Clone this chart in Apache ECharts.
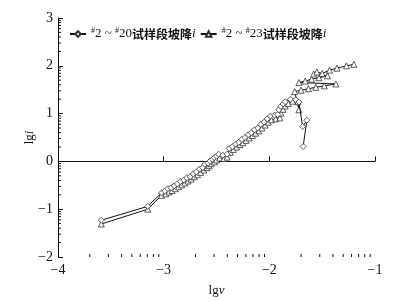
<!DOCTYPE html>
<html><head><meta charset="utf-8">
<script src="https://cdn.jsdelivr.net/npm/echarts@6/dist/echarts.min.js"></script>
<style>html,body{margin:0;padding:0;background:#fff}#c{width:410px;height:302px}</style>
</head><body><div id="c"></div>
<script>
var seriesNames = ['#2 ~ #20试样段坡降i', '#2 ~ #23试样段坡降i'];
var xTicks = [-4, -3, -2, -1];
var yTicks = [-2, -1, 0, 1, 2, 3];
var s20 = [[-3.59,-1.23],[-3.15,-0.94],[-3.02,-0.66],[-2.99,-0.62],[-2.96,-0.57],[-2.93,-0.55],[-2.90,-0.51],[-2.87,-0.47],[-2.84,-0.42],[-2.81,-0.39],[-2.78,-0.34],[-2.75,-0.32],[-2.72,-0.26],[-2.69,-0.22],[-2.66,-0.16],[-2.63,-0.13],[-2.61,-0.06],[-2.58,-0.04],[-2.56,0.01],[-2.54,0.04],[-2.52,0.08],[-2.50,0.11],[-2.48,0.15],[-2.44,0.13],[-2.40,0.15],[-2.38,0.27],[-2.35,0.31],[-2.32,0.36],[-2.29,0.40],[-2.26,0.46],[-2.23,0.50],[-2.20,0.56],[-2.17,0.60],[-2.14,0.66],[-2.11,0.70],[-2.08,0.77],[-2.05,0.82],[-2.02,0.89],[-1.99,0.95],[-1.95,0.97],[-1.92,0.98],[-1.91,1.08],[-1.89,1.15],[-1.87,1.20],[-1.85,1.25],[-1.80,1.30],[-1.75,1.29],[-1.72,1.24],[-1.685,0.73],[-1.645,0.86],[-1.68,0.31]];
var s23 = [[-3.59,-1.31],[-3.15,-1.00],[-3.02,-0.71],[-2.98,-0.68],[-2.95,-0.64],[-2.92,-0.61],[-2.89,-0.57],[-2.86,-0.53],[-2.83,-0.49],[-2.80,-0.45],[-2.77,-0.41],[-2.74,-0.37],[-2.71,-0.32],[-2.68,-0.28],[-2.65,-0.23],[-2.62,-0.18],[-2.59,-0.13],[-2.57,-0.09],[-2.55,-0.05],[-2.52,-0.01],[-2.50,0.03],[-2.47,0.07],[-2.43,0.06],[-2.40,0.09],[-2.37,0.19],[-2.34,0.25],[-2.31,0.30],[-2.28,0.35],[-2.25,0.39],[-2.22,0.44],[-2.19,0.49],[-2.16,0.54],[-2.13,0.59],[-2.10,0.64],[-2.07,0.70],[-2.04,0.76],[-2.01,0.82],[-1.98,0.87],[-1.94,0.89],[-1.90,0.91],[-1.89,1.01],[-1.87,1.09],[-1.85,1.16],[-1.82,1.21],[-1.78,1.26],[-1.73,1.25],[-1.72,1.08],[-1.76,1.46],[-1.70,1.49],[-1.63,1.52],[-1.56,1.55],[-1.48,1.58],[-1.37,1.62],[-1.72,1.65],[-1.66,1.68],[-1.60,1.72],[-1.53,1.75],[-1.45,1.79],[-1.58,1.83],[-1.55,1.87],[-1.50,1.84],[-1.43,1.91],[-1.36,1.95],[-1.27,2.00],[-1.20,2.03]];

function logMinor(ticks, kind){
  var out=[];
  for(var i=0;i<ticks.length-1;i++){
    for(var k=2;k<=9;k++){ out.push([ticks[i]+Math.log10(k), kind]); }
  }
  return out;
}
var minorTicks = logMinor(xTicks, 0).concat(logMinor(yTicks, 1));
var serif = "'Liberation Serif','Times New Roman','Noto Sans CJK SC',serif";
function fmt(v){ return v<0 ? '\u2212'+Math.abs(v) : String(v); }
function legendFmt(name){
  var m = name.match(/^#(\d+) ~ #(\d+)(.*)i$/);
  return '{sup|#}'+m[1]+' ~ {sup|#}'+m[2]+'{cjk|'+m[3]+'}{it|i}';
}
var baseText = {fontFamily: serif, fontSize: 13, color: '#111'};
var rich = {
  sup:{fontFamily:serif,fontSize:8,color:'#111',verticalAlign:'top',padding:[0,0,6,0]},
  cjk:{fontFamily:"'Noto Sans CJK SC',sans-serif",fontSize:12,color:'#111',fontWeight:'bold'},
  it:{fontFamily:serif,fontSize:13,fontStyle:'italic',color:'#111'}
};
var chart = echarts.init(document.getElementById('c'), null, {renderer:'canvas'});
chart.setOption({
  animation:false,
  backgroundColor:'#fff',
  grid:{left:58, right:35, top:18, bottom:42},
  legend:{
    left:64, top:22, itemWidth:16, itemHeight:7, itemGap:4,
    data: seriesNames,
    formatter: legendFmt,
    textStyle: Object.assign({}, baseText, {rich: rich})
  },
  xAxis:{
    type:'value', min:-4, max:-1, interval:1,
    name:'lg{it|v}', nameLocation:'middle', nameGap:27, nameMoveOverlap:false,
    nameTextStyle: Object.assign({}, baseText, {rich: rich}),
    axisLine:{show:true,lineStyle:{color:'#111',width:1}},
    axisTick:{show:true,inside:true,length:5,lineStyle:{color:'#111'}},
    axisLabel:{formatter:fmt, fontFamily:serif, fontSize:14, color:'#111', margin:6},
    splitLine:{show:false}
  },
  yAxis:{
    type:'value', min:-2, max:3, interval:1,
    name:'lg{it|i}', nameLocation:'middle', nameGap:22, nameRotate:90, nameMoveOverlap:false,
    nameTextStyle: Object.assign({}, baseText, {rich: rich}),
    axisLine:{show:true,lineStyle:{color:'#111',width:1}},
    axisTick:{show:true,inside:true,length:5,lineStyle:{color:'#111'}},
    axisLabel:{formatter:fmt, fontFamily:serif, fontSize:14, color:'#111', margin:5},
    splitLine:{show:false}
  },
  series:[{
    name: seriesNames[0], type:'line', data:s20,
    symbol:'diamond', symbolSize:6, showSymbol:true,
    lineStyle:{color:'#111',width:1},
    itemStyle:{color:'#fff',borderColor:'#333',borderWidth:0.8},
    z:3
  },{
    name: seriesNames[1], type:'line', data:s23,
    symbol:'triangle', symbolSize:6, showSymbol:true,
    lineStyle:{color:'#111',width:1},
    itemStyle:{color:'#fff',borderColor:'#333',borderWidth:0.8},
    z:2
  },{
    name:'minorTicks', type:'custom', silent:true, clip:false, z:1,
    data: minorTicks,
    encode:{x:-1, y:-1},
    renderItem:function(params, api){
      var v = api.value(0), kind = api.value(1), p, q;
      if(kind === 0){ p = api.coord([v, -2]); q = [p[0], p[1]-3]; }
      else { p = api.coord([-4, v]); q = [p[0]+3, p[1]]; }
      return {type:'line', shape:{x1:p[0],y1:p[1],x2:q[0],y2:q[1]}, style:{stroke:'#111',lineWidth:1}};
    }
  }]
});
</script></body></html>
